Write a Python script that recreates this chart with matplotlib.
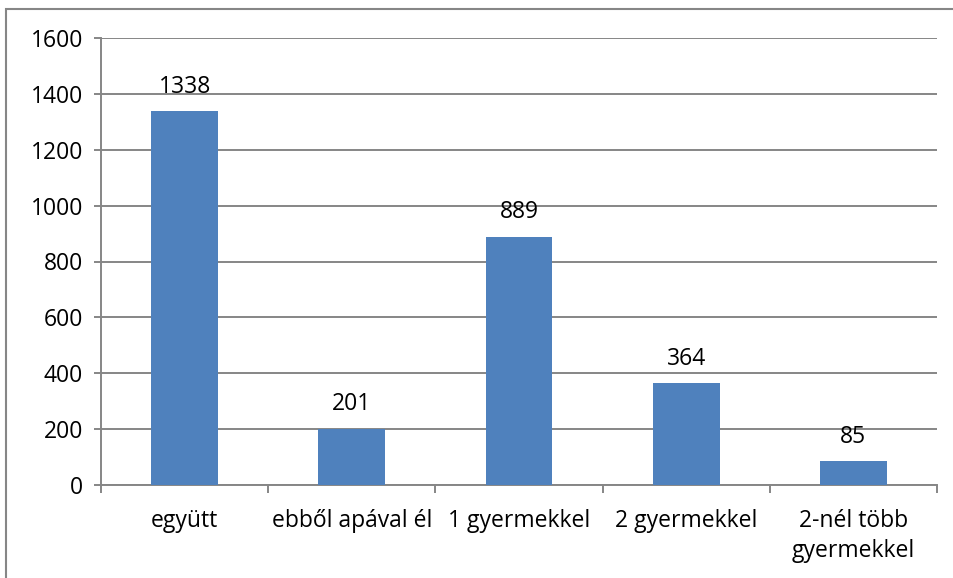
import matplotlib.pyplot as plt
from matplotlib.patches import Rectangle
import numpy as np

categories = ['együtt', 'ebből apával él', '1 gyermekkel', '2 gyermekkel', '2-nél több\ngyermekkel']
values = [1338, 201, 889, 364, 85]
y_ticks = [0, 200, 400, 600, 800, 1000, 1200, 1400, 1600]

plt.rcParams['font.family'] = ['Open Sans', 'DejaVu Sans']
gray = '#868686'
fs = 16.5

fig = plt.figure(figsize=(9.54, 5.78), dpi=100)
ax = fig.add_axes([101 / 954, 93 / 578, 836 / 954, 447 / 578])

# keret a diagram körül
fig.patches.append(Rectangle((6 / 954, -0.1), 1.2, (578 - 9) / 578 + 0.1,
                             transform=fig.transFigure, fill=False,
                             edgecolor=gray, linewidth=1.5))

x = np.arange(len(categories))
bars = ax.bar(x, values, width=0.4, color='#4F81BD', zorder=3)

for xi, v in zip(x, values):
    ax.annotate(str(v), (xi, v), xytext=(0, 9), textcoords='offset points',
                ha='center', va='bottom', fontsize=fs)

ax.set_xlim(-0.5, len(categories) - 0.5)
ax.set_ylim(0, 1600)
ax.set_yticks(y_ticks)
ax.tick_params(axis='y', labelsize=fs, length=5, color=gray, width=1.4, pad=8)
ax.yaxis.grid(True, color=gray, linewidth=1.4, zorder=0)

ax.set_xticks(np.arange(len(categories) + 1) - 0.5)
ax.set_xticklabels([])
ax.set_xticks(x, minor=True)
ax.set_xticklabels(categories, minor=True, fontsize=fs, linespacing=1.35)
ax.tick_params(axis='x', which='major', length=6, color=gray, width=1.4)
ax.tick_params(axis='x', which='minor', length=0, pad=17)

for s in ['top', 'right']:
    ax.spines[s].set_visible(False)
for s in ['left', 'bottom']:
    ax.spines[s].set_color(gray)
    ax.spines[s].set_linewidth(1.4)

plt.savefig('out.png', dpi=100)
